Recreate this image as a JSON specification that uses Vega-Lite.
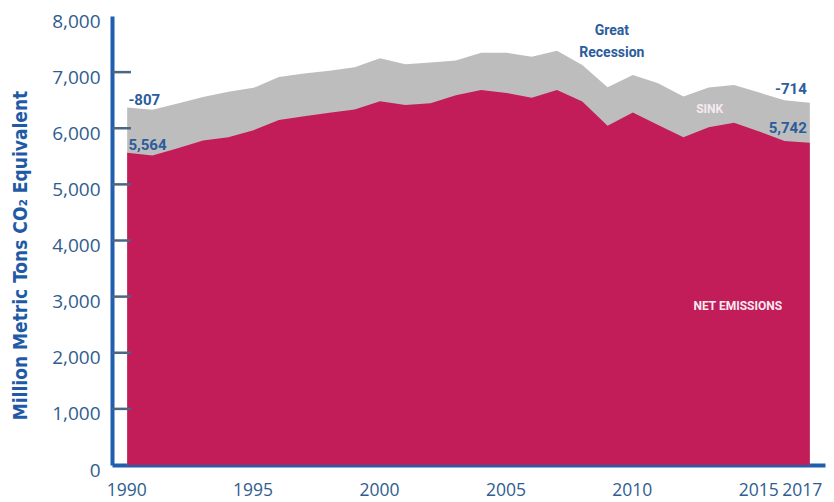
{
  "$schema": "https://vega.github.io/schema/vega-lite/v6.json",
  "width": 713,
  "height": 449,
  "autosize": {"type": "none"},
  "padding": {"left": 112, "top": 16, "right": 9, "bottom": 37},
  "background": "white",
  "config": {"view": {"stroke": null}},
  "datasets": {
    "emissions": [
      {"year": 1990, "gross": 6371, "net": 5564},
      {"year": 1991, "gross": 6328, "net": 5514},
      {"year": 1992, "gross": 6440, "net": 5645},
      {"year": 1993, "gross": 6555, "net": 5781},
      {"year": 1994, "gross": 6650, "net": 5841},
      {"year": 1995, "gross": 6720, "net": 5965},
      {"year": 1996, "gross": 6915, "net": 6145},
      {"year": 1997, "gross": 6975, "net": 6215},
      {"year": 1998, "gross": 7025, "net": 6275},
      {"year": 1999, "gross": 7085, "net": 6335},
      {"year": 2000, "gross": 7245, "net": 6480},
      {"year": 2001, "gross": 7140, "net": 6415},
      {"year": 2002, "gross": 7170, "net": 6445},
      {"year": 2003, "gross": 7205, "net": 6590},
      {"year": 2004, "gross": 7345, "net": 6680},
      {"year": 2005, "gross": 7345, "net": 6630},
      {"year": 2006, "gross": 7275, "net": 6545},
      {"year": 2007, "gross": 7380, "net": 6680},
      {"year": 2008, "gross": 7125, "net": 6475},
      {"year": 2009, "gross": 6730, "net": 6043},
      {"year": 2010, "gross": 6950, "net": 6280},
      {"year": 2011, "gross": 6800, "net": 6060},
      {"year": 2012, "gross": 6565, "net": 5840},
      {"year": 2013, "gross": 6725, "net": 6018},
      {"year": 2014, "gross": 6770, "net": 6100},
      {"year": 2015, "gross": 6635, "net": 5940},
      {"year": 2016, "gross": 6500, "net": 5775},
      {"year": 2017, "gross": 6456, "net": 5742}
    ],
    "yticks": [
      {"v": 1000}, {"v": 2000}, {"v": 3000}, {"v": 4000},
      {"v": 5000}, {"v": 6000}, {"v": 7000}
    ],
    "leftLabels": [
      {"year": 1990.05, "value": 6506, "label": "-807"},
      {"year": 1990.05, "value": 5704, "label": "5,564"}
    ],
    "rightLabels": [
      {"year": 2016.88, "value": 6702, "label": "-714"},
      {"year": 2016.88, "value": 6007, "label": "5,742"}
    ],
    "centerLabels": [
      {"year": 2009.17, "value": 7736, "label": "Great"},
      {"year": 2009.17, "value": 7344, "label": "Recession"}
    ],
    "whiteLabels": [
      {"year": 2013.04, "value": 6346, "label": "SINK"},
      {"year": 2014.15, "value": 2834, "label": "NET EMISSIONS"}
    ]
  },
  "layer": [
    {
      "data": {"name": "emissions"},
      "mark": {"type": "area", "color": "#bdbdbd", "interpolate": "linear"},
      "encoding": {
        "x": {
          "field": "year", "type": "quantitative",
          "scale": {"domain": [1989.4, 2017.6], "nice": false, "zero": false},
          "axis": {
            "title": null,
            "values": [1990, 1995, 2000, 2005, 2010, 2015, 2017],
            "format": "d",
            "ticks": false,
            "grid": false,
            "domainColor": "#1f5fad",
            "domainWidth": 4,
            "labelFont": "Open Sans",
            "labelFontSize": 17.5,
            "labelColor": "#2f5d8f",
            "labelPadding": 16,
            "labelBaseline": "top",
            "labelFlush": false,
            "labelOverlap": false,
            "labelOffset": {"condition": {"test": "datum.value == 2017", "value": -8}, "value": -1}
          }
        },
        "y": {
          "field": "gross", "type": "quantitative",
          "scale": {"domain": [0, 8000], "nice": false},
          "axis": {
            "title": "Million Metric Tons CO₂ Equivalent",
            "titleFont": "DejaVu Sans Condensed, DejaVu Sans, sans-serif",
            "titleFontWeight": "bold",
            "titleFontSize": 19,
            "titleColor": "#1f5aa6",
            "titleX": -92,
            "titleY": 239,
            "titleAngle": -90,
            "titleAlign": "center",
            "titleBaseline": "middle",
            "values": [0, 1000, 2000, 3000, 4000, 5000, 6000, 7000, 8000],
            "format": ",d",
            "grid": false,
            "ticks": false,
            "domainColor": "#1f5fad",
            "domainWidth": 4,
            "labelFont": "Open Sans",
            "labelFontSize": 19,
            "labelColor": "#2f5d8f",
            "labelPadding": 12,
            "labelOffset": 5
          }
        }
      }
    },
    {
      "data": {"name": "emissions"},
      "mark": {"type": "area", "color": "#c21d59", "interpolate": "linear"},
      "encoding": {
        "x": {"field": "year", "type": "quantitative"},
        "y": {"field": "net", "type": "quantitative"}
      }
    },
    {
      "data": {"name": "yticks"},
      "mark": {"type": "rule", "color": "#4a6585", "strokeWidth": 2.5},
      "encoding": {
        "y": {"field": "v", "type": "quantitative"},
        "x": {"datum": 1989.4, "type": "quantitative"},
        "x2": {"datum": 1990.15}
      }
    },
    {
      "data": {"name": "leftLabels"},
      "mark": {"type": "text", "align": "left", "baseline": "middle", "font": "Roboto", "fontWeight": "bold", "fontSize": 15, "color": "#2b5c9c"},
      "encoding": {
        "x": {"field": "year", "type": "quantitative"},
        "y": {"field": "value", "type": "quantitative"},
        "text": {"field": "label"}
      }
    },
    {
      "data": {"name": "rightLabels"},
      "mark": {"type": "text", "align": "right", "baseline": "middle", "font": "Roboto", "fontWeight": "bold", "fontSize": 15, "color": "#2b5c9c"},
      "encoding": {
        "x": {"field": "year", "type": "quantitative"},
        "y": {"field": "value", "type": "quantitative"},
        "text": {"field": "label"}
      }
    },
    {
      "data": {"name": "centerLabels"},
      "mark": {"type": "text", "align": "center", "baseline": "middle", "font": "Roboto", "fontWeight": "bold", "fontSize": 14, "color": "#2b5c9c"},
      "encoding": {
        "x": {"field": "year", "type": "quantitative"},
        "y": {"field": "value", "type": "quantitative"},
        "text": {"field": "label"}
      }
    },
    {
      "data": {"name": "whiteLabels"},
      "mark": {"type": "text", "align": "center", "baseline": "middle", "font": "Roboto", "fontWeight": "bold", "fontSize": 12, "color": "#f6eaf0"},
      "encoding": {
        "x": {"field": "year", "type": "quantitative"},
        "y": {"field": "value", "type": "quantitative"},
        "text": {"field": "label"}
      }
    }
  ]
}
